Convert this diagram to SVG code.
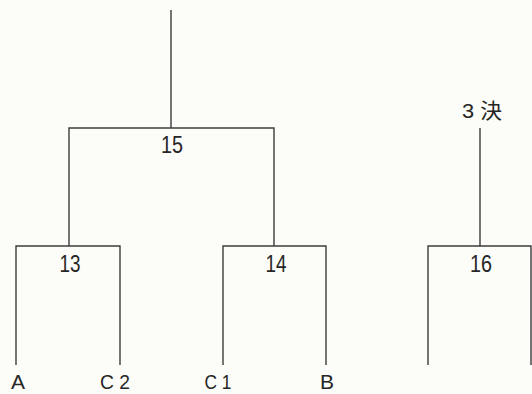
<svg xmlns="http://www.w3.org/2000/svg" width="532" height="394" viewBox="0 0 532 394">
<style>
.ln{stroke:#3c3c3c;stroke-width:1.4;fill:none}
.t{font-family:"Liberation Sans","Noto Sans CJK JP",sans-serif;font-size:23px;fill:#262626;text-anchor:middle}
.s{font-size:21px}
.b{font-size:21px}
</style>
<rect width="532" height="394" fill="#fcfcf8"/>
<g id="connectors">
<path class="ln" d="M171 10V128M69 246V128H274V246"/>
<path class="ln" d="M16 365V246H120V365"/>
<path class="ln" d="M223 365V246H326V365"/>
<path class="ln" d="M480 128V246M428 365V246H531V365"/>
</g>
<g id="n15"><text class="t" x="172" y="153" textLength="22" lengthAdjust="spacingAndGlyphs">15</text></g>
<g id="n13"><text class="t" x="70" y="272" textLength="21" lengthAdjust="spacingAndGlyphs">13</text></g>
<g id="n14"><text class="t" x="276" y="272" textLength="21" lengthAdjust="spacingAndGlyphs">14</text></g>
<g id="n16"><text class="t" x="481" y="272" textLength="22" lengthAdjust="spacingAndGlyphs">16</text></g>
<g id="n3k"><text class="t s" x="482" y="118" textLength="40" lengthAdjust="spacingAndGlyphs">3 決</text></g>
<g id="nA"><text class="t b" x="18" y="389">A</text></g>
<g id="nC2"><text class="t b" x="115" y="389" textLength="30" lengthAdjust="spacingAndGlyphs">C 2</text></g>
<g id="nC1"><text class="t b" x="218" y="389" textLength="27" lengthAdjust="spacingAndGlyphs">C 1</text></g>
<g id="nB"><text class="t b" x="327" y="389">B</text></g>
</svg>
